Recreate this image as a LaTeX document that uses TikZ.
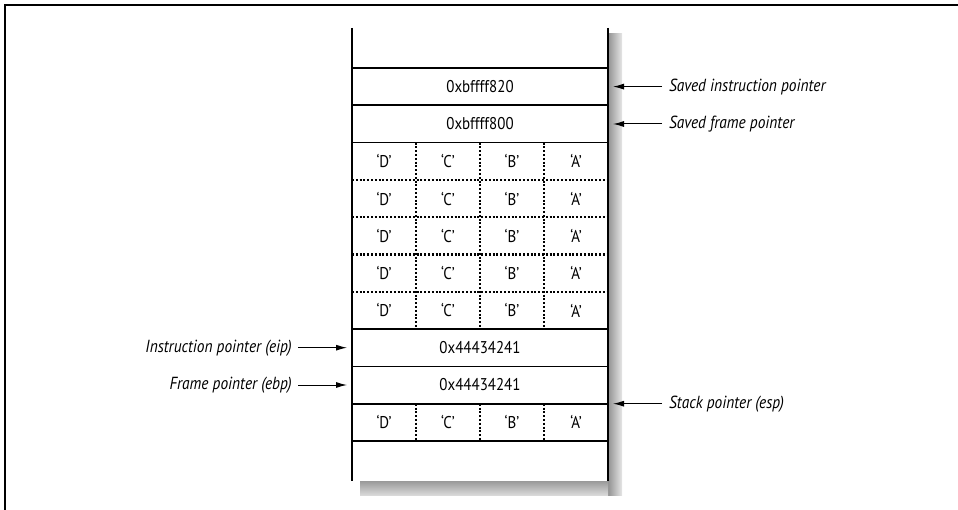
\documentclass[tikz,border=0pt]{standalone}
\usepackage{fontspec}
\setmainfont[FakeStretch=0.88]{PT Sans}
\usetikzlibrary{arrows.meta}
\begin{document}
\begin{tikzpicture}[x=1pt,y=-1pt,
  lab/.style={font=\itshape\fontsize{17.5}{20}\selectfont, inner sep=0pt},
  cell/.style={font=\fontsize{17}{20}\selectfont, inner sep=0pt},
  solidl/.style={line width=1.8pt},
  dotl/.style={line width=2.1pt, dash pattern=on 2pt off 1.8pt},
  arr/.style={-{Latex[length=11pt,width=6pt]}, line width=1pt}]
\useasboundingbox (0,0) rectangle (958,510);
% frame
\draw[line width=2pt] (5,510) -- (5,5) -- (958,5);
% shadow
\shade[left color=gray!85, right color=gray!20] (608,34) rectangle (622,495);
\shade[top color=gray!80, bottom color=gray!30] (360,481) rectangle (608,495);
\fill[white] (352,28) rectangle (608,481);
% rows
\def\ra{68}\def\rb{105.3}\def\rc{142.6}\def\rd{179.9}\def\re{217.2}\def\rf{254.5}
\def\rg{291.8}\def\rh{329.1}\def\ri{366.4}\def\rj{403.7}\def\rk{441}
\foreach \y in {\rd,\re,\rf,\rg}
  \draw[dotl] (352,\y) -- (608,\y);
\foreach \x in {416,480,544} {
  \draw[dotl] (\x,\rc) -- (\x,\rh);
  \draw[dotl] (\x,\rj) -- (\x,\rk);
}
\foreach \y in {\ra,\rb,\rc,\rh,\ri,\rj,\rk}
  \draw[solidl] (352,\y) -- (608,\y);
\draw[solidl] (352,28) -- (352,481);
\draw[solidl] (608,28) -- (608,481);
% cells
\node[cell] (sip) at (480,86.6) {0xbffff820};
\node[cell] (sfp) at (480,124) {0xbffff800};
\foreach \y [count=\i] in {161.2,198.5,235.8,273.1,310.4,422.3} {
  \node[cell] (d\i) at (384,\y) {‘D’};
  \node[cell] (c\i) at (448,\y) {‘C’};
  \node[cell] (b\i) at (512,\y) {‘B’};
  \node[cell] (a\i) at (576,\y) {‘A’};
}
\node[cell] (eipv) at (480,347.7) {0x44434241};
\node[cell] (ebpv) at (480,385) {0x44434241};
% labels
\node[lab, anchor=west] (lsip) at (669,86.6) {Saved instruction pointer};
\node[lab, anchor=west] (lsfp) at (669,124) {Saved frame pointer};
\node[lab, anchor=west] (lesp) at (669,403.7) {Stack pointer (esp)};
\node[lab, anchor=east] (leip) at (292,347.7) {Instruction pointer (eip)};
\node[lab, anchor=east] (lebp) at (292,385) {Frame pointer (ebp)};
\coordinate (tsip) at (613,86.6);
\coordinate (tsfp) at (613,124);
\coordinate (tesp) at (613,403.7);
\coordinate (teip) at (347,347.7);
\coordinate (tebp) at (347,385);
\draw[arr] ([xshift=-7pt]lsip.west) -- (tsip);
\draw[arr] ([xshift=-7pt]lsfp.west) -- (tsfp);
\draw[arr] ([xshift=-7pt]lesp.west) -- (tesp);
\draw[arr] ([xshift=6pt]leip.east) -- (teip);
\draw[arr] ([xshift=6pt]lebp.east) -- (tebp);
\end{tikzpicture}
\end{document}
